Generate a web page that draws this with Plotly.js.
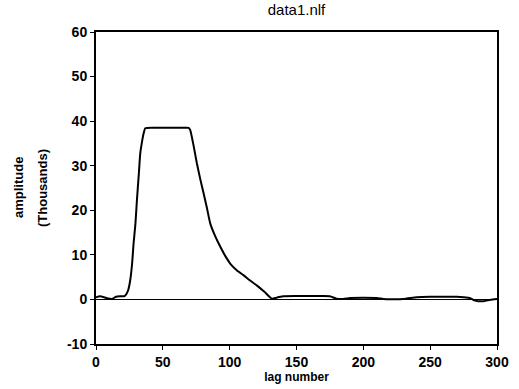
<!DOCTYPE html>
<html>
<head>
<meta charset="utf-8">
<script src="https://cdn.plot.ly/plotly-3.0.1.min.js"></script>
<style>html,body{margin:0;padding:0;background:#fff;}#chart{width:519px;height:389px;}</style>
</head>
<body>
<div id="chart"></div>
<script>
// lag number (x) and amplitude in thousands (y)
const lagNumber = [0,3,6,9,12,15,18,21,22,24,25.6,27,28.1,29.5,30.6,32,33.1,34.5,35.6,36.9,45,55,65,69.3,70.5,73,75.5,78,80.5,83,85.5,89,93,97,101,105.5,110.5,115,120.5,126,131.7,135,140,150,160,170,175,180,185,190,200,210,215,220,230,240,250,260,270,275,280,283,286,290,295,300];
const amplitude = [0.5,0.7,0.5,0.2,0.1,0.6,0.7,0.7,0.9,2,4.3,8,12.5,17,22.2,28,32.7,35.5,37.2,38.4,38.5,38.5,38.5,38.5,38,34.5,30.5,27,23.8,20.5,17,14.3,11.8,9.6,7.8,6.5,5.4,4.3,3.1,1.7,0.15,0.4,0.7,0.75,0.75,0.75,0.7,0.15,0.1,0.3,0.4,0.3,0.1,0.05,0.1,0.5,0.6,0.6,0.6,0.5,0.3,-0.2,-0.4,-0.4,-0.1,0.1];
const xTicks = [0,50,100,150,200,250,300];
const yTicks = [-10,0,10,20,30,40,50,60];
const yTitleLines = ['amplitude', '(Thousands)'];

const font = 'Liberation Sans, Arial, sans-serif';
const data = [{
  x: lagNumber, y: amplitude, type: 'scatter', mode: 'lines',
  line: {color: '#000', width: 2, shape: 'spline', smoothing: 0.5},
  hoverinfo: 'skip'
}];
const layout = {
  width: 519, height: 389,
  margin: {l: 96, r: 22, t: 32, b: 45},
  paper_bgcolor: '#fff', plot_bgcolor: '#fff',
  showlegend: false,
  title: {text: 'data1.nlf', font: {family: font, size: 15, color: '#000'}, x: 0.5, xref: 'paper', y: 0.975, yanchor: 'middle'},
  xaxis: {
    range: [0, 300], tickvals: xTicks, ticktext: xTicks.map(String),
    showgrid: false, zeroline: false,
    showline: true, mirror: true, linecolor: '#000', linewidth: 2,
    ticks: 'outside', ticklen: 4, tickcolor: '#000', tickwidth: 1,
    tickfont: {family: font, size: 14, color: '#000', weight: 'bold'},
    title: {text: 'lag number', font: {family: font, size: 12, color: '#000', weight: 'bold'}, standoff: 3}
  },
  yaxis: {
    range: [-10, 60], tickvals: yTicks, ticktext: yTicks.map(String),
    showgrid: false, zeroline: true, zerolinecolor: '#000', zerolinewidth: 1.5,
    showline: true, mirror: true, linecolor: '#000', linewidth: 2,
    ticks: 'outside', ticklen: 4, tickcolor: '#000', tickwidth: 1,
    tickfont: {family: font, size: 14, color: '#000', weight: 'bold'}
  },
  annotations: [
    {text: yTitleLines[0], xref: 'paper', yref: 'paper', x: 0, y: 0.5, xanchor: 'center', yanchor: 'middle',
     xshift: -78, textangle: -90, showarrow: false, font: {family: font, size: 13, color: '#000', weight: 'bold'}},
    {text: yTitleLines[1], xref: 'paper', yref: 'paper', x: 0, y: 0.5, xanchor: 'center', yanchor: 'middle',
     xshift: -54, textangle: -90, showarrow: false, font: {family: font, size: 13, color: '#000', weight: 'bold'}}
  ]
};
Plotly.newPlot('chart', data, layout, {staticPlot: true, displayModeBar: false});
</script>
</body>
</html>
